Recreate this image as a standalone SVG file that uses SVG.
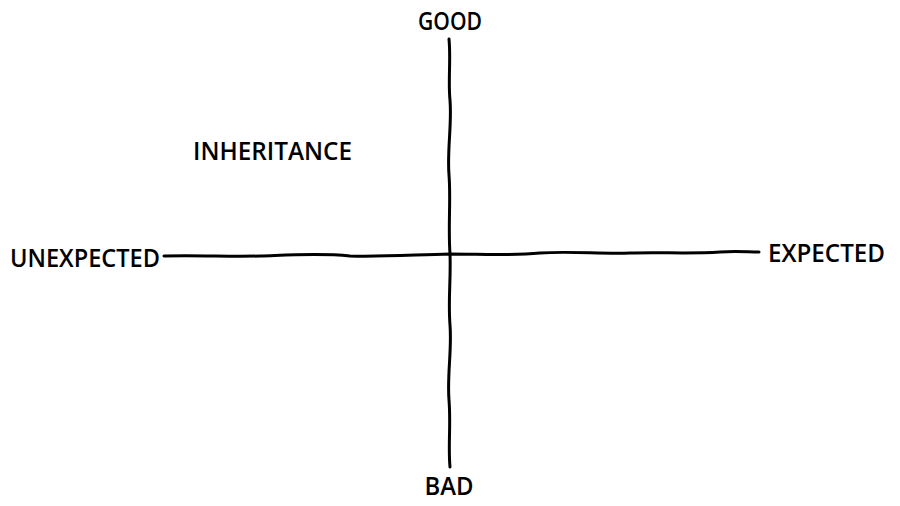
<svg xmlns="http://www.w3.org/2000/svg" width="900" height="506" viewBox="0 0 900 506">
<style>
text{font-family:"Open Sans","DejaVu Sans",sans-serif;font-size:25px;fill:#000;font-weight:600}
.ax{fill:none;stroke:#000;stroke-width:3;stroke-linecap:round;stroke-linejoin:round}
</style>
<rect width="900" height="506" fill="#fff"/>
<g id="connectors">
<path class="ax" d="M449,39 C451,60 448,80 450,100 C452,125 447,150 449,175 C451,200 448,225 450,254 C451,280 448,300 450,325 C452,350 447,375 449,400 C451,425 448,445 450,467"/>
<path class="ax" d="M164,256 C200,255 230,257 260,256 C290,255 320,253 350,256 C380,257 410,255 450,254 C480,254 510,256 540,253 C570,251 600,254 630,253 C660,252 690,254 720,252 C735,251 748,252 759,252"/>
</g>
<g id="good"><text x="450" y="30" text-anchor="middle" textLength="64" lengthAdjust="spacingAndGlyphs">GOOD</text></g>
<g id="bad"><text x="449" y="495" text-anchor="middle" textLength="49" lengthAdjust="spacingAndGlyphs">BAD</text></g>
<g id="unexpected"><text x="10" y="267" textLength="150" lengthAdjust="spacingAndGlyphs">UNEXPECTED</text></g>
<g id="expected"><text x="768" y="262" textLength="117" lengthAdjust="spacingAndGlyphs">EXPECTED</text></g>
<g id="inheritance"><text x="193" y="160" textLength="159" lengthAdjust="spacingAndGlyphs">INHERITANCE</text></g>
</svg>
